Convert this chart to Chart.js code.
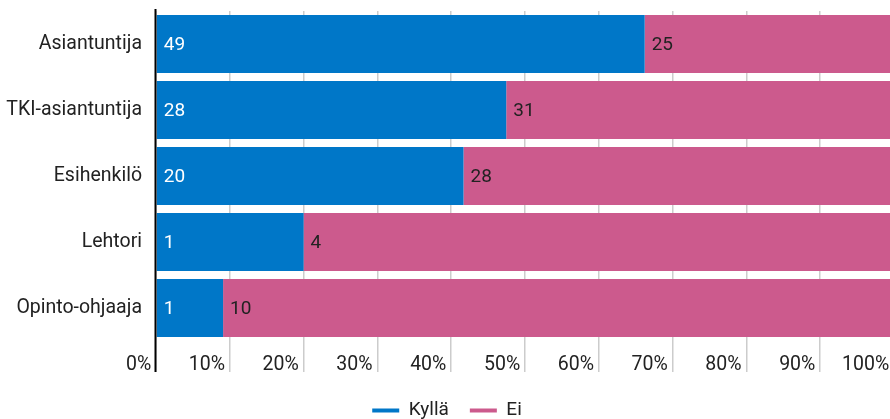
<!DOCTYPE html>
<html lang="fi">
<head>
<meta charset="utf-8">
<title>Kyllä / Ei</title>
<script src="https://cdn.jsdelivr.net/npm/chart.js"></script>
<style>
    html, body { margin: 0; padding: 0; background: #ffffff; overflow: hidden; }
    /* kuvaaja jatkuu hieman oikean reunan yli, kuten alkuperäisessä */
    #wrap { position: relative; width: 894px; height: 419px; }
</style>
</head>
<body>
<div id="wrap"><canvas id="chartCanvas"></canvas></div>
<script>
// ==========================================
// Data (luettu kuvasta)
// ==========================================
const categories = ['Asiantuntija', 'TKI-asiantuntija', 'Esihenkilö', 'Lehtori', 'Opinto-ohjaaja'];
const kyllaCounts = [49, 28, 20, 1, 1];
const eiCounts = [25, 31, 28, 4, 10];
const tickValues = [0, 10, 20, 30, 40, 50, 60, 70, 80, 90, 100];

const BLUE = '#0077c8';
const PINK = '#cc5a8d';
const TEXT = '#222222';
const FONT = 'Roboto, "Noto Sans", sans-serif';

// 100 % pinottu: osuus rivin summasta
function toShare(counts) {
    return counts.map((v, i) => v / (kyllaCounts[i] + eiCounts[i]) * 100);
}

// Lukumäärät palkkien sisään + musta akselilinja
const barLabelsPlugin = {
    id: 'barLabels',
    afterDatasetsDraw(chart) {
        const ctx = chart.ctx;
        const area = chart.chartArea;
        ctx.save();
        ctx.font = '19px ' + FONT;
        ctx.textBaseline = 'middle';
        ctx.textAlign = 'left';
        chart.data.datasets.forEach((ds, di) => {
            const meta = chart.getDatasetMeta(di);
            meta.data.forEach((bar, i) => {
                const p = bar.getProps(['x', 'y', 'base'], true);
                ctx.fillStyle = di === 0 ? '#ffffff' : TEXT;
                ctx.fillText(String(ds.counts[i]), Math.min(p.x, p.base) + 7, p.y + 1);
            });
        });

        const x0 = chart.scales.x.getPixelForValue(0);
        ctx.strokeStyle = '#000000';
        ctx.lineWidth = 2;
        ctx.beginPath();
        ctx.moveTo(x0 - 0.5, area.top - 2);
        ctx.lineTo(x0 - 0.5, area.bottom + 31);
        ctx.stroke();
        ctx.restore();
    }
};

const ctx = document.getElementById('chartCanvas').getContext('2d');
new Chart(ctx, {
    type: 'bar',
    data: {
        labels: categories,
        datasets: [
            { label: 'Kyllä', data: toShare(kyllaCounts), counts: kyllaCounts, backgroundColor: BLUE, borderWidth: 0 },
            { label: 'Ei', data: toShare(eiCounts), counts: eiCounts, backgroundColor: PINK, borderWidth: 0 }
        ]
    },
    options: {
        indexAxis: 'y',
        responsive: true,
        maintainAspectRatio: false,
        animation: false,
        layout: { padding: { top: 11, right: 0, left: 0, bottom: -11 } },
        datasets: { bar: { categoryPercentage: 1, barPercentage: 0.879 } },
        scales: {
            x: {
                stacked: true,
                min: 0,
                max: 100,
                afterBuildTicks: scale => { scale.ticks = tickValues.map(v => ({ value: v })); },
                afterFit: scale => { scale.height = 39; },
                border: { display: false },
                grid: {
                    color: '#cccccc',
                    lineWidth: 1.5,
                    drawTicks: true,
                    tickLength: 31
                },
                ticks: {
                    align: 'end',
                    autoSkip: false,
                    maxRotation: 0,
                    padding: -19,
                    color: TEXT,
                    font: { family: FONT, size: 19.5 },
                    callback: v => v + '% '
                }
            },
            y: {
                stacked: true,
                afterFit: scale => {
                    scale.width = 156;
                    scale.paddingTop = 0;
                    scale.paddingBottom = 0;
                },
                border: { display: false },
                grid: { display: false, drawTicks: false },
                ticks: {
                    padding: 14,
                    color: TEXT,
                    font: { family: FONT, size: 19.5 }
                }
            }
        },
        plugins: {
            legend: {
                position: 'bottom',
                labels: {
                    boxWidth: 27,
                    boxHeight: 4,
                    padding: 21,
                    color: TEXT,
                    font: { family: FONT, size: 19 }
                }
            },
            tooltip: { enabled: false }
        }
    },
    plugins: [barLabelsPlugin]
});
</script>
</body>
</html>
